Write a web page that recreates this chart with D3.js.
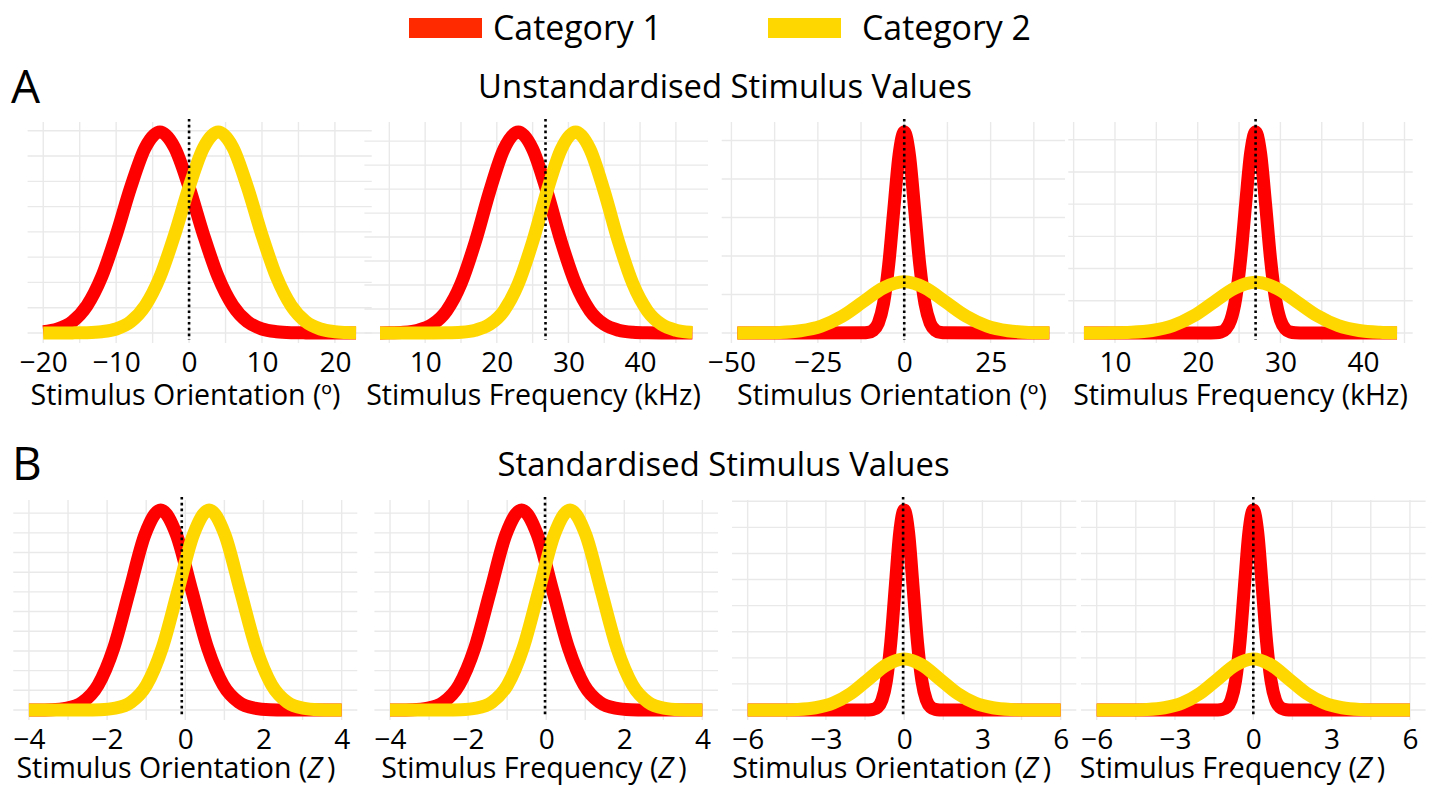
<!DOCTYPE html>
<html>
<head>
<meta charset="utf-8">
<script src="https://cdn.jsdelivr.net/npm/d3@7"></script>
<style>
  body { margin: 0; background: #ffffff; }
  svg text { font-family: 'Open Sans', 'Noto Sans', sans-serif; fill: #000; }
</style>
</head>
<body>
<svg id="chart" width="1433" height="786"></svg>
<script>
// ---------------- DATA ----------------
const categories = ["Category 1", "Category 2"];
const rowTitles = ["Unstandardised Stimulus Values", "Standardised Stimulus Values"];
const rowLetters = ["A", "B"];
const xTitlesA = ["Stimulus Orientation (º)", "Stimulus Frequency (kHz)", "Stimulus Orientation (º)", "Stimulus Frequency (kHz)"];
const xTitlesB = ["Stimulus Orientation (", "Stimulus Frequency (", "Stimulus Orientation (", "Stimulus Frequency ("];

// Panel A1 (orientation, overlapping categories)
const a1X      = [-20,-18,-16,-14,-12,-10,-8,-6,-4,-2,0,2,4,6,8,10,12,14,16,18,20,22,22.9];
const a1Red    = [0.00048,0.00157,0.00446,0.0108,0.0221,0.0387,0.0577,0.0734,0.0795,0.0734,0.0577,0.0387,0.0221,0.0108,0.00446,0.00157,0.00048,0.00012,0.00003,0,0,0,0];
const a1Yellow = [0,0,0.00003,0.00012,0.00048,0.00157,0.00446,0.0108,0.0221,0.0387,0.0577,0.0734,0.0795,0.0734,0.0577,0.0387,0.0221,0.0108,0.00446,0.00157,0.00048,0.00012,0.00006];

// Panel A2 (frequency, overlapping categories)
const a2X      = [3.7,5,7,9,11,13,15,17,19,21,23,25,27,29,31,33,35,37,39,41,43,45,47,47.3];
const a2Red    = [0.00003,0.00007,0.0003,0.00113,0.00354,0.00931,0.0205,0.038,0.059,0.0767,0.0838,0.0767,0.059,0.038,0.0205,0.00931,0.00354,0.00113,0.0003,0.00007,0.00001,0,0,0];
const a2Yellow = [0,0,0,0,0.00001,0.00007,0.0003,0.00113,0.00354,0.00931,0.0205,0.038,0.059,0.0767,0.0838,0.0767,0.059,0.038,0.0205,0.00931,0.00354,0.00113,0.0003,0.00024];

// Panel A3 (orientation, nested categories)
const a3RedX    = [-48.3,-12,-10.5,-9,-7.5,-6,-4.5,-3,-1.5,0,1.5,3,4.5,6,7.5,9,10.5,12,42];
const a3Red     = [0,0.00006,0.00036,0.00171,0.00644,0.019,0.0442,0.0806,0.1157,0.1305,0.1157,0.0806,0.0442,0.019,0.00644,0.00171,0.00036,0.00006,0];
const a3YellowX = [-48.3,-42,-36,-30,-24,-18,-12,-6,0,6,12,18,24,30,36,42];
const a3Yellow  = [0.00001,0.00007,0.00037,0.00146,0.00449,0.01078,0.0201,0.0293,0.0332,0.0293,0.0201,0.01078,0.00449,0.00146,0.00037,0.00007];

// Panel A4 (frequency, nested categories)
const a4RedX    = [6.25,21.6,22.2,22.8,23.4,24.0,24.6,25.2,25.8,26.4,27.0,27.6,28.2,28.8,29.4,30.0,30.6,31.2,31.8,32.4,44.1];
const a4Red     = [0,0.00004,0.00027,0.00142,0.00593,0.01993,0.0537,0.1159,0.2009,0.2795,0.312,0.2795,0.2009,0.1159,0.0537,0.01993,0.00593,0.00142,0.00027,0.00004,0];
const a4YellowX = [6.25,7,9.5,12,14.5,17,19.5,22,24.5,27,29.5,32,34.5,37,39.5,42,44.1];
const a4Yellow  = [0.00002,0.00003,0.00021,0.001,0.00379,0.01129,0.0264,0.0484,0.0696,0.0786,0.0696,0.0484,0.0264,0.01129,0.00379,0.001,0.00027];

// Panel B1 (standardised orientation, overlapping)
const b1RedX    = [-4,-3.83,-3.43,-3.03,-2.63,-2.23,-1.83,-1.43,-1.03,-0.63,-0.23,0.17,0.57,0.97,1.37,1.77,2.17,2.57,2.97,4];
const b1Red     = [0.00005,0.00013,0.00088,0.00474,0.01979,0.0637,0.1579,0.3023,0.4462,0.508,0.4462,0.3023,0.1579,0.0637,0.01979,0.00474,0.00088,0.00013,0.00001,0];
const b1YellowX = [-4,-2.99,-2.59,-2.19,-1.79,-1.39,-0.99,-0.59,-0.19,0.21,0.61,1.01,1.41,1.81,2.21,2.61,3.01,3.41,3.81,4];
const b1Yellow  = [0,0.00001,0.00013,0.00088,0.00474,0.01979,0.0637,0.1579,0.3023,0.4462,0.508,0.4462,0.3023,0.1579,0.0637,0.01979,0.00474,0.00088,0.00013,0.00005];

// Panel B2 (standardised frequency, overlapping)
const b2RedX    = [-4,-3.83,-3.43,-3.03,-2.63,-2.23,-1.83,-1.43,-1.03,-0.63,-0.23,0.17,0.57,0.97,1.37,1.77,2.17,2.57,2.97,4];
const b2Red     = [0.00005,0.00013,0.00088,0.00474,0.01979,0.0637,0.1579,0.3023,0.4462,0.508,0.4462,0.3023,0.1579,0.0637,0.01979,0.00474,0.00088,0.00013,0.00001,0];
const b2YellowX = [-4,-2.99,-2.59,-2.19,-1.79,-1.39,-0.99,-0.59,-0.19,0.21,0.61,1.01,1.41,1.81,2.21,2.61,3.01,3.41,3.81,4];
const b2Yellow  = [0,0.00001,0.00013,0.00088,0.00474,0.01979,0.0637,0.1579,0.3023,0.4462,0.508,0.4462,0.3023,0.1579,0.0637,0.01979,0.00474,0.00088,0.00013,0.00005];

// Panel B3 (standardised orientation, nested)
const b3RedX    = [-6,-1.53,-1.36,-1.19,-1.02,-0.85,-0.68,-0.51,-0.34,-0.17,0,0.17,0.34,0.51,0.68,0.85,1.02,1.19,1.36,1.53,6];
const b3Red     = [0,0.00007,0.00053,0.0032,0.01526,0.0572,0.1684,0.3903,0.7114,1.02,1.15,1.02,0.7114,0.3903,0.1684,0.0572,0.01526,0.0032,0.00053,0.00007,0];
const b3YellowX = [-6,-5.44,-4.76,-4.08,-3.4,-2.72,-2.04,-1.36,-0.68,0,0.68,1.36,2.04,2.72,3.4,4.08,4.76,5.44,6];
const b3Yellow  = [0.00002,0.0001,0.00065,0.00329,0.01297,0.0398,0.0954,0.1779,0.2587,0.293,0.2587,0.1779,0.0954,0.0398,0.01297,0.00329,0.00065,0.0001,0.00002];

// Panel B4 (standardised frequency, nested)
const b4RedX    = [-6,-1.53,-1.36,-1.19,-1.02,-0.85,-0.68,-0.51,-0.34,-0.17,0,0.17,0.34,0.51,0.68,0.85,1.02,1.19,1.36,1.53,6];
const b4Red     = [0,0.00007,0.00053,0.0032,0.01526,0.0572,0.1684,0.3903,0.7114,1.02,1.15,1.02,0.7114,0.3903,0.1684,0.0572,0.01526,0.0032,0.00053,0.00007,0];
const b4YellowX = [-6,-5.44,-4.76,-4.08,-3.4,-2.72,-2.04,-1.36,-0.68,0,0.68,1.36,2.04,2.72,3.4,4.08,4.76,5.44,6];
const b4Yellow  = [0.00002,0.0001,0.00065,0.00329,0.01297,0.0398,0.0954,0.1779,0.2587,0.293,0.2587,0.1779,0.0954,0.0398,0.01297,0.00329,0.00065,0.0001,0.00002];

// Category boundary (dotted line) in each panel
const criteria = [0, 26.8, 0, 27.0, -0.09, -0.03, -0.04, 0];

// Tick labels and gridlines
const xTicks = [
  [-20,-10,0,10,20], [10,20,30,40], [-50,-25,0,25], [10,20,30,40],
  [-4,-2,0,2,4], [-4,-2,0,2,4], [-6,-3,0,3,6], [-6,-3,0,3,6]
];
const xMinor = [
  [-15,-5,5,15], [5,15,25,35,45], [-37.5,-12.5,12.5,37.5], [5,15,25,35,45],
  [-3,-1,1,3], [-3,-1,1,3], [-4.5,-1.5,1.5,4.5], [-4.5,-1.5,1.5,4.5]
];
const yGridStep = [0.01, 0.01, 0.025, 0.05, 0.05, 0.05, 0.15, 0.15];

// ---------------- LAYOUT ----------------
const colors = { red: "#ff0000", yellow: "#ffd700", legendRed: "#ff2a00", grid: "#e9e9e9" };
const rowA = { top: 122, bottom: 343, tickY: 371.5, titleY: 405 };
const rowB = { top: 500, bottom: 720, tickY: 748.5, titleY: 778 };
const layout = [
  { row: rowA, left: 27.6,  right: 371.7,  titleX: 185.5 },
  { row: rowA, left: 364.4, right: 708,    titleX: 533.5 },
  { row: rowA, left: 721.7, right: 1065,   titleX: 892 },
  { row: rowA, left: 1068.3,right: 1412.7, titleX: 1240.5 },
  { row: rowB, left: 13.3,  right: 357.3,  titleX: 176 },
  { row: rowB, left: 374.4, right: 718,    titleX: 534 },
  { row: rowB, left: 732,   right: 1076.3, titleX: 891.7 },
  { row: rowB, left: 1081,  right: 1425.6, titleX: 1232.5 }
];

const series = [
  [a1X, a1Red, a1X, a1Yellow],
  [a2X, a2Red, a2X, a2Yellow],
  [a3RedX, a3Red, a3YellowX, a3Yellow],
  [a4RedX, a4Red, a4YellowX, a4Yellow],
  [b1RedX, b1Red, b1YellowX, b1Yellow],
  [b2RedX, b2Red, b2YellowX, b2Yellow],
  [b3RedX, b3Red, b3YellowX, b3Yellow],
  [b4RedX, b4Red, b4YellowX, b4Yellow]
];

const svg = d3.select("#chart");
svg.append("rect").attr("width", 1433).attr("height", 786).attr("fill", "#fff");

const TICK_FS = 28;

function fitFont(sel, target) {
  const w = sel.node().getComputedTextLength();
  const fs = parseFloat(sel.attr("font-size"));
  return fs * target / w;
}

// ---------------- PANELS ----------------
series.forEach((s, i) => {
  const L = layout[i];
  const redPts = s[0].map((x, j) => [x, s[1][j]]);
  const yelPts = s[2].map((x, j) => [x, s[3][j]]);
  const allX = s[0].concat(s[2]);
  const allY = s[1].concat(s[3]);
  const [x0, x1] = d3.extent(allX);
  const pad = 0.05 * (x1 - x0);
  const yMax = d3.max(allY);

  const x = d3.scaleLinear().domain([x0 - pad, x1 + pad]).range([L.left, L.right]);
  const y = d3.scaleLinear().domain([-0.05 * yMax, 1.05 * yMax]).range([L.row.bottom, L.row.top]);

  const g = svg.append("g").attr("class", "panel");

  // gridlines
  const vx = xTicks[i].concat(xMinor[i]);
  g.selectAll("line.vg").data(vx).enter().append("line")
    .attr("x1", d => x(d)).attr("x2", d => x(d))
    .attr("y1", L.row.top).attr("y2", L.row.bottom)
    .attr("stroke", colors.grid).attr("stroke-width", 1.4);
  const hy = d3.range(0, 1.05 * yMax + 1e-9, yGridStep[i]);
  g.selectAll("line.hg").data(hy).enter().append("line")
    .attr("x1", L.left).attr("x2", L.right)
    .attr("y1", d => y(d)).attr("y2", d => y(d))
    .attr("stroke", colors.grid).attr("stroke-width", 1.4);

  // curves
  const line = d3.line().x(d => x(d[0])).y(d => y(d[1])).curve(d3.curveMonotoneX);
  g.append("path").datum(redPts).attr("d", line)
    .attr("fill", "none").attr("stroke", colors.red).attr("stroke-width", 13)
    .attr("stroke-linejoin", "round").attr("stroke-linecap", "butt");
  g.append("path").datum(yelPts).attr("d", line)
    .attr("fill", "none").attr("stroke", colors.yellow).attr("stroke-width", 13)
    .attr("stroke-linejoin", "round").attr("stroke-linecap", "butt");

  // dotted criterion line
  g.append("line")
    .attr("x1", x(criteria[i])).attr("x2", x(criteria[i]))
    .attr("y1", L.row.top - 3).attr("y2", L.row.bottom - 3)
    .attr("stroke", "#000").attr("stroke-width", 2.6)
    .attr("stroke-dasharray", "2.6,3.2");

  // x axis
  const ax = g.append("g").attr("transform", `translate(0,${L.row.tickY})`)
    .call(d3.axisBottom(x).tickValues(xTicks[i]).tickSize(0).tickFormat(d3.format("d")));
  ax.select(".domain").remove();
  ax.selectAll("text").attr("y", 0).attr("dy", 0)
    .attr("font-size", TICK_FS).attr("font-family", "'Open Sans', sans-serif").attr("fill", "#000");

  // axis title
  const t = g.append("text").attr("class", "xtitle")
    .attr("x", L.titleX).attr("y", L.row.titleY)
    .attr("text-anchor", "middle").attr("font-size", 28);
  if (i < 4) {
    t.text(xTitlesA[i]);
  } else {
    t.append("tspan").text(xTitlesB[i - 4]);
    t.append("tspan").attr("font-style", "italic").text("Z");
    t.append("tspan").text("\u2009)");
  }
});

// uniform title size fitted on one reference title
const refTitle = svg.selectAll("text.xtitle").filter((d, k) => k === 2);
const titleFs = fitFont(refTitle, 310);
svg.selectAll("text.xtitle").attr("font-size", titleFs);

// ---------------- HEADINGS ----------------
const h1 = svg.append("text").attr("x", 725).attr("y", 98).attr("text-anchor", "middle")
  .attr("font-size", 30).text(rowTitles[0]);
const headFs = fitFont(h1, 494);
h1.attr("font-size", headFs);
svg.append("text").attr("x", 723.5).attr("y", 476).attr("text-anchor", "middle")
  .attr("font-size", headFs).text(rowTitles[1]);

svg.append("text").attr("x", 11).attr("y", 103).attr("font-size", 46).text(rowLetters[0]);
svg.append("text").attr("x", 12).attr("y", 480).attr("font-size", 46).text(rowLetters[1]);

// ---------------- LEGEND ----------------
const legendX = [409, 768];
const legendText = [493, 862];
const legendCols = [colors.legendRed, colors.yellow];
categories.forEach((c, k) => {
  svg.append("rect").attr("x", legendX[k]).attr("y", 18).attr("width", 73).attr("height", 20)
    .attr("fill", legendCols[k]);
  svg.append("text").attr("class", "leg").attr("x", legendText[k]).attr("y", 40)
    .attr("font-size", 30).text(c);
});
const legFs = fitFont(svg.select("text.leg"), 169);
svg.selectAll("text.leg").attr("font-size", legFs);
</script>
</body>
</html>
